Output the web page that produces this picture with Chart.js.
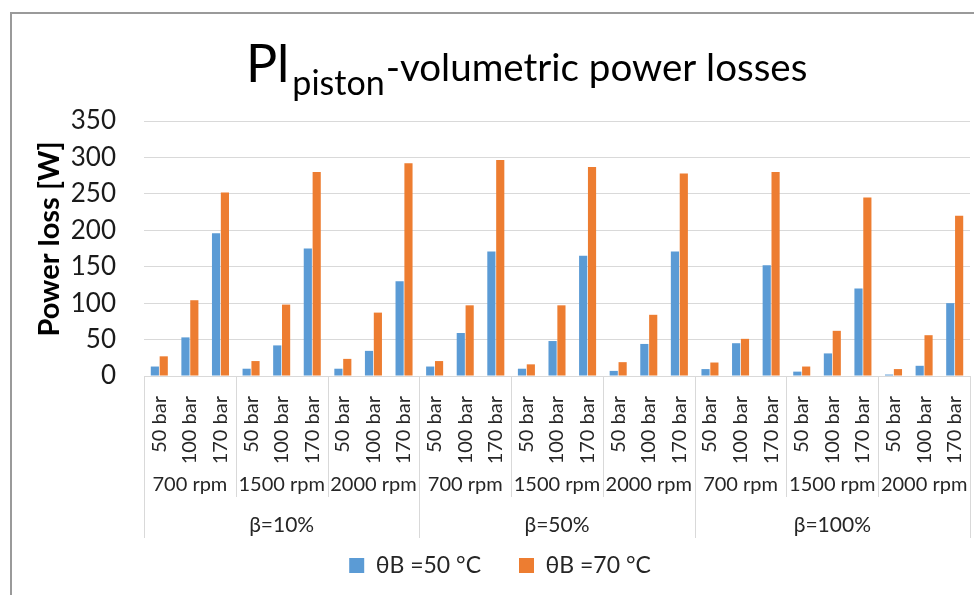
<!DOCTYPE html>
<html>
<head>
<meta charset="utf-8">
<title>Pl piston - volumetric power losses</title>
<script src="https://cdn.jsdelivr.net/npm/chart.js@4.4.1/dist/chart.umd.min.js"></script>
<style>
    html, body { margin: 0; padding: 0; background: #fff; overflow: hidden; }
    .frame {
        position: absolute; left: 10px; top: 12px; width: 2000px; height: 2000px;
        border-left: 2px solid #9a9a9a; border-top: 2px solid #9a9a9a;
    }
    #chartWrap { position: absolute; left: 0; top: 0; width: 974px; height: 595px; }
</style>
</head>
<body>
<div class="frame"></div>
<div id="chartWrap"><canvas id="lossChart" width="974" height="595"></canvas></div>
<script>
const pressureLabels = ['50 bar', '100 bar', '170 bar'];
const speedLabels = ['700 rpm', '1500 rpm', '2000 rpm'];
const betaLabels = ['β=10%', 'β=50%', 'β=100%'];

const seriesNames = ['θB =50 °C', 'θB =70 °C'];
const loss50 = [13, 53, 196, 10, 42, 175, 10, 34.5, 130, 13, 59, 171, 10, 48, 165, 7, 44, 171, 9.5, 45, 152, 6, 31, 120, 2, 14, 100];
const loss70 = [27, 104, 252, 20.5, 98, 280, 23.5, 87, 292, 20.5, 97, 296.5, 16, 97, 287, 19, 84, 278, 18.5, 51, 280, 13, 62, 245, 9.5, 56, 220];

const yTicks = [0, 50, 100, 150, 200, 250, 300, 350];
const yTitle = 'Power loss [W]';

const FONT = 'Lato, "Open Sans", sans-serif';
const SEP_COLOR = '#d9d9d9';
const LABEL_COLOR = '#262626';

// one category per pressure, repeated for each speed and beta
const categories = [];
betaLabels.forEach(() => {
    speedLabels.forEach(() => {
        pressureLabels.forEach(p => categories.push(p));
    });
});

const titlePlugin = {
    id: 'subTitle',
    afterDraw(chart) {
        const ctx = chart.ctx;
        ctx.save();
        ctx.fillStyle = '#000';
        ctx.textBaseline = 'alphabetic';
        ctx.textAlign = 'left';
        let x = 246;
        ctx.font = '52px ' + FONT;
        ctx.fillText('Pl', x, 82);
        x += ctx.measureText('Pl').width + 3;
        ctx.font = '34px ' + FONT;
        ctx.fillText('piston', x, 95);
        x += ctx.measureText('piston').width + 1;
        ctx.font = '38.5px ' + FONT;
        ctx.fillText('-volumetric power losses', x, 81);

        // y axis title, placed where the original has it
        ctx.translate(50, 239);
        ctx.rotate(-Math.PI / 2);
        ctx.textAlign = 'center';
        ctx.textBaseline = 'middle';
        ctx.font = 'bold 29px ' + FONT;
        ctx.fillText(yTitle, 0, 0);
        ctx.restore();
    }
};

const groupAxisPlugin = {
    id: 'groupAxis',
    afterDraw(chart) {
        const ctx = chart.ctx;
        const xs = chart.scales.x;
        const cw = xs.getPixelForValue(1) - xs.getPixelForValue(0);
        const left = xs.getPixelForValue(0) - cw / 2;
        const axisY = chart.chartArea.bottom;
        const perBeta = speedLabels.length * pressureLabels.length;

        ctx.save();
        ctx.strokeStyle = SEP_COLOR;
        ctx.lineWidth = 1;
        for (let i = 0; i <= categories.length; i += pressureLabels.length) {
            const px = Math.round(left + i * cw) + 0.5;
            const bottom = (i % perBeta === 0) ? 538 : 497;
            ctx.beginPath();
            ctx.moveTo(px, axisY);
            ctx.lineTo(px, bottom);
            ctx.stroke();
        }

        ctx.fillStyle = LABEL_COLOR;
        ctx.textAlign = 'center';
        ctx.textBaseline = 'middle';
        ctx.font = '20px ' + FONT;
        let k = 0;
        betaLabels.forEach(() => {
            speedLabels.forEach(s => {
                const cx = left + (k * pressureLabels.length + 1.5) * cw;
                ctx.fillText(s, cx, 485);
                k++;
            });
        });
        ctx.font = '21px ' + FONT;
        betaLabels.forEach((b, j) => {
            const cx = left + (j * perBeta + perBeta / 2) * cw;
            ctx.fillText(b, cx, 525);
        });
        ctx.restore();
    }
};

function buildChart() {
    const ctx = document.getElementById('lossChart').getContext('2d');
    return new Chart(ctx, {
        type: 'bar',
        data: {
            labels: categories,
            datasets: [
                {
                    label: seriesNames[0],
                    data: loss50,
                    backgroundColor: '#5B9BD5',
                    categoryPercentage: 0.58,
                    barPercentage: 0.92
                },
                {
                    label: seriesNames[1],
                    data: loss70,
                    backgroundColor: '#ED7D31',
                    categoryPercentage: 0.58,
                    barPercentage: 0.92
                }
            ]
        },
        options: {
            responsive: false,
            animation: false,
            layout: { padding: { top: 121, left: 30, right: 4, bottom: 8 } },
            scales: {
                x: {
                    grid: { display: false },
                    border: { color: SEP_COLOR },
                    ticks: {
                        autoSkip: false,
                        minRotation: 90,
                        maxRotation: 90,
                        padding: 12,
                        color: LABEL_COLOR,
                        font: { family: FONT, size: 20 }
                    },
                    afterFit(scale) {
                        scale.height = 140;
                        scale.paddingLeft = 0;
                        scale.paddingRight = 0;
                    }
                },
                y: {
                    min: 0,
                    max: 350,
                    afterBuildTicks(scale) { scale.ticks = yTicks.map(v => ({ value: v })); },
                    grid: { color: SEP_COLOR, drawTicks: false },
                    border: { display: false },
                    ticks: {
                        padding: 28,
                        color: '#1a1a1a',
                        font: { family: FONT, size: 26 }
                    },
                    title: { display: false },
                    afterFit(scale) { scale.width = 114; }
                }
            },
            plugins: {
                title: { display: false },
                tooltip: { enabled: false },
                legend: {
                    position: 'bottom',
                    labels: {
                        boxWidth: 15,
                        boxHeight: 15,
                        padding: 38,
                        color: LABEL_COLOR,
                        font: { family: FONT, size: 23 }
                    }
                }
            }
        },
        plugins: [titlePlugin, groupAxisPlugin]
    });
}

document.addEventListener('DOMContentLoaded', buildChart);
</script>
</body>
</html>
